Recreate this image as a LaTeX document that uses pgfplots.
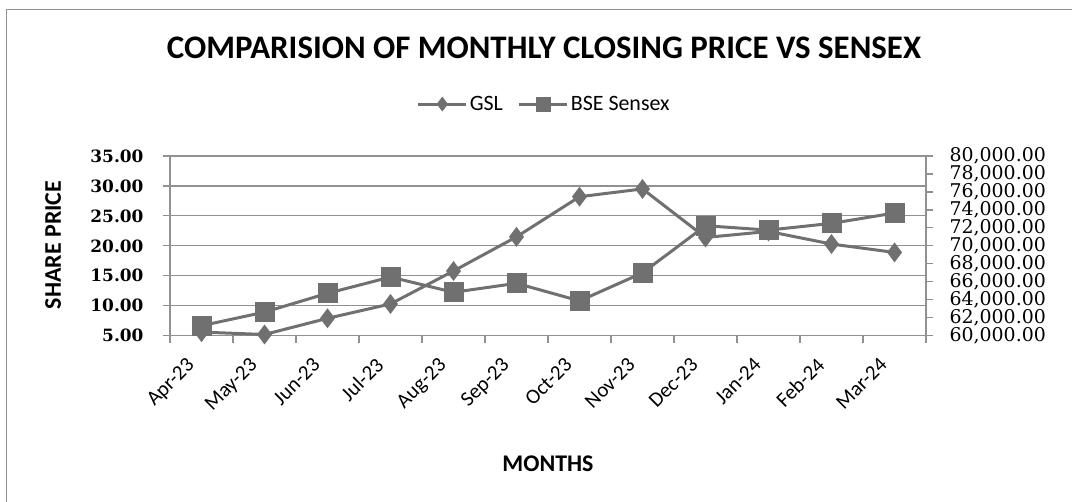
\documentclass[border=0pt]{standalone}
\usepackage{fontspec}
\setmainfont{Carlito}
\newfontfamily\tickfont{DejaVu Serif}
\usepackage{pgfplots}
\pgfplotsset{compat=1.18}
\definecolor{lc}{RGB}{112,112,112}
\definecolor{gc}{RGB}{145,145,145}
\begin{document}
\begin{tikzpicture}[x=1bp,y=1bp]
\path[use as bounding box] (0,0) rectangle (1072,502);
\draw[gc, line width=1.3bp] (6.5,0) -- (6.5,492.5) -- (1072,492.5);
\begin{axis}[
  at={(170bp,166.3bp)}, anchor=south west,
  width=756bp, height=179.7bp, scale only axis,
  xmin=-0.5, xmax=11.5, ymin=5, ymax=35,
  axis x line*=bottom, axis y line*=left,
  axis line style={-, draw=gc, line width=1.2bp},
  ytick={5,10,...,35},
  ymajorgrids, major grid style={draw=gc, line width=1.2bp},
  xtick={0,...,11},
  xticklabels={Apr-23,May-23,Jun-23,Jul-23,Aug-23,Sep-23,Oct-23,Nov-23,Dec-23,Jan-24,Feb-24,Mar-24},
  minor xtick={-0.5,0.5,...,11.5},
  major x tick style={draw=none},
  minor x tick style={draw=gc, line width=1.2bp},
  y tick style={draw=gc, line width=1.2bp},
  tick align=outside, major tick length=7bp, minor tick length=7bp,
  /pgf/number format/assume math mode=true,
  yticklabel style={font=\tickfont\bfseries\fontsize{17}{18}\selectfont, xshift=-16bp, /pgf/number format/.cd, fixed, fixed zerofill, precision=2},
  xticklabel style={font=\fontsize{21}{21}\selectfont, xshift=-16bp, yshift=-9bp, rotate=45, anchor=north east},
  clip=false,
  legend style={at={(0.495,1.289)}, anchor=center, draw=none, fill=none, legend columns=2,
    font=\fontsize{22}{22}\selectfont, inner sep=0pt,
    /tikz/every even column/.append style={column sep=13bp}},
  legend cell align=left,
  legend image code/.code={\draw[mark repeat=2,mark phase=2,#1] plot coordinates {(0bp,0bp) (24bp,0bp) (48bp,0bp)};},
]
\addplot[forget plot, color=lc, line width=3bp, mark=diamond*, mark size=7.5bp, mark options={fill=lc}]
  coordinates {(0,5.6) (1,5.2) (2,7.9) (3,10.3) (4,15.8) (5,21.5) (6,28.2) (7,29.5) (8,21.4) (9,22.4) (10,20.3) (11,18.9)};
\addlegendimage{color=lc, line width=3bp, mark=diamond*, mark size=5bp, mark options={fill=lc}}
\addlegendentry{GSL}
\addlegendimage{color=lc, line width=3bp, mark=square*, mark size=6bp, mark options={fill=lc}}
\addlegendentry{BSE Sensex}
\end{axis}
\begin{axis}[
  at={(170bp,166.3bp)}, anchor=south west,
  width=756bp, height=179.7bp, scale only axis,
  xmin=-0.5, xmax=11.5, ymin=60000, ymax=80000,
  axis x line=none, axis y line*=right,
  axis line style={-, draw=gc, line width=1.2bp},
  ytick={60000,62000,...,80000},
  y tick style={draw=gc, line width=1.2bp},
  tick align=outside, major tick length=7bp,
  scaled y ticks=false,
  /pgf/number format/assume math mode=true,
  yticklabel style={font=\tickfont\fontsize{19}{18}\selectfont, xshift=13bp, /pgf/number format/.cd, fixed, fixed zerofill, precision=2, 1000 sep={,}},
  clip=false,
]
\addplot[color=lc, line width=3bp, mark=square*, mark size=8.5bp, mark options={fill=lc}]
  coordinates {(0,61112) (1,62622) (2,64718) (3,66527) (4,64831) (5,65828) (6,63874) (7,66988) (8,72240) (9,71752) (10,72500) (11,73651)};
\end{axis}
\node[font=\bfseries\fontsize{33}{34}\selectfont] at (544,454.5) {COMPARISION OF MONTHLY CLOSING PRICE VS SENSEX};
\node[rotate=90, font=\bfseries\fontsize{24}{24}\selectfont] at (53,257) {SHARE PRICE};
\node[font=\bfseries\fontsize{24}{24}\selectfont] at (548,38) {MONTHS};
\end{tikzpicture}
\end{document}
